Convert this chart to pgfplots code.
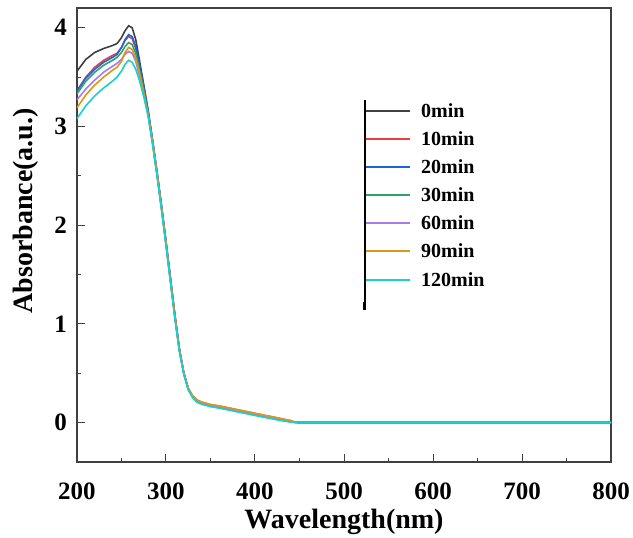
\documentclass[border=0pt]{standalone}
\usepackage{pgfplots}
\pgfplotsset{compat=1.18}
\usepackage{fontspec}
\setmainfont{Liberation Serif}
\definecolor{c0}{HTML}{404040}
\definecolor{c10}{HTML}{F03C3C}
\definecolor{c20}{HTML}{1E64DC}
\definecolor{c30}{HTML}{2DA464}
\definecolor{c60}{HTML}{A97BEB}
\definecolor{c90}{HTML}{D89A14}
\definecolor{c120}{HTML}{18D0D0}
\begin{document}
\begin{tikzpicture}
\useasboundingbox (-77pt,-76pt) rectangle (556pt,462pt);
\begin{axis}[
  scale only axis, width=534pt, height=454pt,
  xmin=200, xmax=800, ymin=-0.4, ymax=4.2,
  xtick={200,300,...,800}, ytick={0,1,2,3,4},
  minor x tick num=1, minor y tick num=1,
  tick align=inside, xtick pos=left, ytick pos=left,
  major tick length=8pt, minor tick length=4pt,
  axis line style={line width=1.2pt, color=black!75},
  every tick/.style={line width=1pt, black!75},
  tick label style={font=\fontsize{25}{25}\selectfont\bfseries},
  /pgf/number format/assume math mode=true,
  xticklabel style={anchor=center, yshift=-29pt},
  yticklabel style={anchor=east, inner sep=0pt, xshift=-10pt},
  xlabel={Wavelength(nm)}, ylabel={Absorbance(a.u.)},
  label style={font=\fontsize{28}{28}\selectfont\bfseries},
  xlabel style={at={(axis description cs:0.5,-0.132)}, anchor=center},
  ylabel style={at={(axis description cs:-0.0955,0.553)}, anchor=center},
]
\addplot[color=c0, line width=1.6pt] table {
200 3.56
210 3.68
220 3.75
230 3.79
240 3.82
245 3.84
250 3.90
254 3.97
258 4.02
262 4.00
266 3.88
270 3.68
275 3.42
280 3.15
285 2.84
290 2.52
295 2.18
300 1.82
305 1.45
310 1.08
315 0.74
320 0.50
325 0.34
330 0.26
335 0.215
340 0.195
350 0.170
360 0.155
370 0.137
380 0.118
390 0.100
400 0.081
410 0.062
420 0.045
430 0.026
440 0.010
445 0.002
450 0.0
800 0.0
};
\addplot[color=c10, line width=1.6pt] table {
200 3.36
210 3.50
220 3.60
230 3.67
240 3.72
245 3.74
250 3.80
254 3.87
258 3.91
262 3.89
266 3.79
270 3.62
275 3.39
280 3.14
285 2.84
290 2.52
295 2.18
300 1.82
305 1.45
310 1.08
315 0.74
320 0.50
325 0.345
330 0.27
335 0.227
340 0.207
350 0.182
360 0.167
370 0.149
380 0.130
390 0.112
400 0.093
410 0.074
420 0.057
430 0.038
440 0.020
445 0.004
450 0.0
800 0.0
};
\addplot[color=c20, line width=1.6pt] table {
200 3.36
210 3.49
220 3.58
230 3.65
240 3.70
245 3.73
250 3.80
254 3.88
258 3.93
262 3.91
266 3.81
270 3.64
275 3.41
280 3.16
285 2.86
290 2.54
295 2.20
300 1.84
305 1.47
310 1.09
315 0.75
320 0.50
325 0.34
330 0.26
335 0.215
340 0.195
350 0.170
360 0.155
370 0.137
380 0.118
390 0.100
400 0.081
410 0.062
420 0.045
430 0.026
440 0.010
445 0.002
450 0.0
800 0.0
};
\addplot[color=c30, line width=1.6pt] table {
200 3.33
210 3.46
220 3.55
230 3.62
240 3.67
245 3.70
250 3.75
254 3.81
258 3.85
262 3.83
266 3.74
270 3.58
275 3.36
280 3.12
285 2.83
290 2.51
295 2.17
300 1.81
305 1.44
310 1.07
315 0.74
320 0.50
325 0.34
330 0.26
335 0.215
340 0.195
350 0.170
360 0.155
370 0.137
380 0.118
390 0.100
400 0.081
410 0.062
420 0.045
430 0.026
440 0.010
445 0.002
450 0.0
800 0.0
};
\addplot[color=c60, line width=1.6pt] table {
200 3.27
210 3.38
220 3.47
230 3.55
240 3.61
245 3.64
250 3.68
254 3.73
258 3.76
262 3.74
266 3.66
270 3.52
275 3.33
280 3.11
285 2.83
290 2.51
295 2.17
300 1.81
305 1.44
310 1.07
315 0.74
320 0.50
325 0.34
330 0.26
335 0.215
340 0.195
350 0.170
360 0.155
370 0.137
380 0.118
390 0.100
400 0.081
410 0.062
420 0.045
430 0.026
440 0.010
445 0.002
450 0.0
800 0.0
};
\addplot[color=c90, line width=1.6pt] table {
200 3.19
210 3.32
220 3.42
230 3.50
240 3.57
245 3.60
250 3.66
254 3.75
258 3.80
262 3.78
266 3.69
270 3.55
275 3.34
280 3.12
285 2.84
290 2.52
295 2.18
300 1.82
305 1.45
310 1.08
315 0.74
320 0.50
325 0.345
330 0.27
335 0.227
340 0.207
350 0.182
360 0.167
370 0.149
380 0.130
390 0.112
400 0.093
410 0.074
420 0.057
430 0.038
440 0.018
445 0.004
450 0.0
800 0.0
};
\addplot[color=c120, line width=1.6pt] table {
200 3.08
210 3.21
220 3.31
230 3.39
240 3.46
245 3.50
250 3.56
254 3.63
258 3.67
262 3.65
266 3.58
270 3.47
275 3.30
280 3.10
285 2.81
290 2.49
295 2.15
300 1.79
305 1.42
310 1.05
315 0.72
320 0.49
325 0.33
330 0.25
335 0.205
340 0.185
350 0.160
360 0.145
370 0.127
380 0.108
390 0.090
400 0.071
410 0.053
420 0.036
430 0.018
440 0.004
445 0.0
450 0.0
800 0.0
};
% legend (drawn by hand, as in the original Origin graph)
\draw[line width=1.6pt, c0]   (rel axis cs:0.541,0.7731) -- (rel axis cs:0.6236,0.7731);
\draw[line width=1.6pt, c10]  (rel axis cs:0.541,0.7115) -- (rel axis cs:0.6236,0.7115);
\draw[line width=1.6pt, c20]  (rel axis cs:0.541,0.6498) -- (rel axis cs:0.6236,0.6498);
\draw[line width=1.6pt, c30]  (rel axis cs:0.541,0.5881) -- (rel axis cs:0.6236,0.5881);
\draw[line width=1.6pt, c60]  (rel axis cs:0.541,0.5264) -- (rel axis cs:0.6236,0.5264);
\draw[line width=1.6pt, c90]  (rel axis cs:0.541,0.4648) -- (rel axis cs:0.6236,0.4648);
\draw[line width=1.6pt, c120] (rel axis cs:0.541,0.4009) -- (rel axis cs:0.6236,0.4009);
\begin{scope}[every node/.style={anchor=west, inner sep=0pt, font=\fontsize{20}{20}\selectfont\bfseries}]
\node at (rel axis cs:0.644,0.7731) {0min};
\node at (rel axis cs:0.644,0.7115) {10min};
\node at (rel axis cs:0.644,0.6498) {20min};
\node at (rel axis cs:0.644,0.5881) {30min};
\node at (rel axis cs:0.644,0.5264) {60min};
\node at (rel axis cs:0.644,0.4648) {90min};
\node at (rel axis cs:0.644,0.4009) {120min};
\end{scope}
\draw[line width=1.7pt, black] (rel axis cs:0.539,0.797) -- (rel axis cs:0.539,0.335);
\fill[black] ([xshift=-1.6pt]rel axis cs:0.539,0.352) rectangle ([xshift=1.6pt]rel axis cs:0.539,0.335);
\end{axis}
\end{tikzpicture}
\end{document}
